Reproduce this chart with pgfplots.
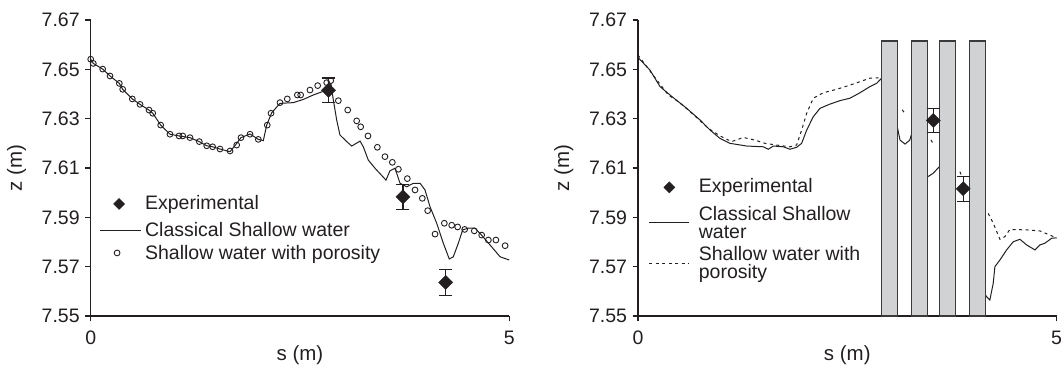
\documentclass[border=0pt]{standalone}
\usepackage{fontspec}
\setmainfont{Liberation Sans}
\usepackage{pgfplots}
\pgfplotsset{compat=1.18}

\definecolor{ink}{HTML}{231F20}
\definecolor{pillar}{HTML}{D1D2D4}
\definecolor{pillaredge}{HTML}{3A3A3A}

\pgfplotsset{
  profile/.style={
    scale only axis, width=418.6bp, height=296bp,
    xmin=0, xmax=5, ymin=7.55, ymax=7.67,
    axis x line*=bottom, axis y line*=left,
    axis line style={ink, line width=1.2bp},
    tick align=outside, major tick length=5.5bp,
    every tick/.style={ink, line width=1.2bp},
    xtick={0,5}, ytick={7.55,7.57,7.59,7.61,7.63,7.65,7.67},
    yticklabel style={/pgf/number format/fixed, /pgf/number format/fixed zerofill, /pgf/number format/precision=2, xshift=-2bp},
    xticklabel style={yshift=-6bp},
    /pgf/number format/assume math mode=true,
    tick label style={font=\fontsize{19.5bp}{22bp}\selectfont, text=ink},
    label style={font=\fontsize{20.5bp}{24bp}\selectfont, text=ink},
    xlabel={s (m)}, ylabel={z (m)},
    xlabel style={at={(axis description cs:0.5,-0.132)}, anchor=center},
    ylabel style={at={(axis description cs:-0.177,0.5)}, anchor=center},
    clip=false,
    legend cell align=left,
    legend style={draw=none, fill=none, inner sep=0pt, anchor=north west,
      font=\fontsize{19.5bp}{18bp}\selectfont, text=ink,
      row sep=5bp,
      nodes={inner sep=1bp, align=left}},
  },
  expmark/.style={only marks, mark=square*, mark size=5bp,
    mark options={rotate=45, fill=ink, draw=ink},
    error bars/y dir=both, error bars/y explicit,
    error bars/error bar style={ink, line width=1.1bp},
    error bars/error mark options={rotate=90, ink, line width=1.1bp, mark size=6.5bp}},
}

\begin{document}
\begin{tikzpicture}
\useasboundingbox (0,0) rectangle (1064bp,367bp);

% ---------------- left: open channel ----------------
\begin{axis}[profile, at={(90.7bp,51bp)}, anchor=south west,
  legend style={at={(axis cs:0.104,7.5994)}, column sep=2.5bp}]
\addlegendimage{legend image code/.code={\draw[only marks, mark=square*, mark size=3.9bp, mark options={rotate=45, fill=ink, draw=ink}] plot coordinates {(19bp,1.5bp)};}}
\addlegendentry[text depth=6bp]{Experimental}
\addlegendimage{legend image code/.code={\draw[ink, line width=1bp] (0bp,0bp) -- (41bp,0bp);}}
\addlegendentry{Classical Shallow water}
\addlegendimage{legend image code/.code={\draw[only marks, mark=o, mark size=2.9bp, mark options={ink, line width=0.9bp}] plot coordinates {(17bp,0bp)};}}
\addlegendentry{Shallow water with porosity}

% classical shallow water
\addplot[ink, line width=1bp, forget plot] coordinates {
(0,7.6541)(0.031,7.6524)(0.143,7.6501)(0.231,7.6473)(0.342,7.6443)(0.382,7.6419)
(0.497,7.638)(0.589,7.6358)(0.696,7.6335)(0.741,7.6322)(0.836,7.6274)(0.947,7.6237)
(1.055,7.623)(1.186,7.6223)(1.297,7.6207)(1.386,7.619)(1.457,7.6186)(1.544,7.6177)
(1.664,7.6166)(1.744,7.6200)(1.795,7.6223)(1.903,7.6238)(2.002,7.6216)(2.062,7.6211)
(2.102,7.6274)(2.162,7.6324)(2.261,7.6362)(2.42,7.6365)(2.54,7.6378)(2.659,7.6396)
(2.819,7.6416)(2.87,7.6440)(2.898,7.6376)(2.938,7.6295)(2.977,7.6234)(3.058,7.6207)
(3.118,7.6189)(3.217,7.6209)(3.256,7.6186)(3.316,7.6132)(3.396,7.6099)(3.527,7.6051)
(3.575,7.6089)(3.635,7.6099)(3.695,7.6038)(3.775,7.6024)(3.853,7.6038)(3.935,7.6038)
(3.993,7.6011)(4.053,7.5943)(4.133,7.5876)(4.212,7.5795)(4.283,7.5731)(4.331,7.5740)
(4.391,7.5795)(4.443,7.5849)(4.51,7.5856)(4.59,7.5856)(4.65,7.5835)(4.77,7.5788)
(4.89,7.5740)(5.0,7.5727)};

% shallow water with porosity
\addplot[only marks, mark=o, mark size=2.9bp, mark options={ink, line width=0.9bp}, forget plot] coordinates {
(0,7.6541)(0.031,7.6524)(0.143,7.6501)(0.231,7.6473)(0.342,7.6443)(0.382,7.6419)
(0.497,7.638)(0.589,7.6358)(0.696,7.6335)(0.741,7.6322)(0.836,7.6274)(0.947,7.6237)
(1.055,7.623)(1.099,7.623)(1.186,7.6223)(1.297,7.6207)(1.386,7.619)(1.457,7.6186)
(1.544,7.6177)(1.664,7.6169)(1.744,7.6193)(1.795,7.6223)(1.903,7.6237)(2.002,7.6216)
(2.109,7.6274)(2.154,7.6322)(2.261,7.6365)(2.348,7.638)(2.468,7.6396)(2.508,7.6396)
(2.619,7.6416)(2.711,7.6434)(2.819,7.6446)(2.867,7.6454)(2.958,7.6373)(3.07,7.6335)
(3.177,7.6291)(3.225,7.6267)(3.312,7.623)(3.424,7.6184)(3.515,7.6146)(3.603,7.6123)
(3.675,7.6095)(3.782,7.6057)(3.874,7.6011)(3.961,7.5977)(4.025,7.5927)(4.113,7.5832)
(4.224,7.5876)(4.312,7.5868)(4.383,7.5861)(4.467,7.5851)(4.582,7.5845)(4.67,7.5828)
(4.75,7.5808)(4.84,7.5808)(4.95,7.5785)};

% measurements
\addplot[forget plot, expmark] coordinates {
(2.84,7.6415) +- (0,0.005)
(3.73,7.5983) +- (0,0.005)
(4.24,7.5636) +- (0,0.0052)};
\end{axis}

% ---------------- right: channel with pillars ----------------
\begin{axis}[profile, at={(638bp,51bp)}, anchor=south west,
  unbounded coords=jump,
  legend style={at={(axis cs:0.127,7.6061)}, column sep=8bp}]
\addlegendimage{legend image code/.code={\draw[only marks, mark=square*, mark size=3.9bp, mark options={rotate=45, fill=ink, draw=ink}] plot coordinates {(20bp,1.5bp)};}}
\addlegendentry[text depth=6bp]{Experimental}
\addlegendimage{legend image code/.code={\draw[ink, line width=1bp] (0bp,0bp) -- (40bp,0bp);}}
\addlegendentry{Classical Shallow\\water}
\addlegendimage{legend image code/.code={\draw[ink, line width=1bp, dash pattern=on 3bp off 3.5bp] (0bp,0bp) -- (40bp,0bp);}}
\addlegendentry{Shallow water with\\porosity}

% classical shallow water
\addplot[ink, line width=1bp, forget plot] coordinates {
(0,7.6548)(0.143,7.6497)(0.263,7.643)(0.382,7.6396)(0.581,7.6342)(0.74,7.6295)
(0.86,7.6254)(0.979,7.622)(1.099,7.620)(1.298,7.6189)(1.497,7.6186)(1.556,7.6176)
(1.616,7.6189)(1.735,7.6186)(1.815,7.6176)(1.895,7.6184)(1.955,7.620)(2.015,7.6254)
(2.094,7.6308)(2.174,7.6342)(2.293,7.6359)(2.412,7.6373)(2.532,7.6383)(2.651,7.6405)
(2.77,7.643)(2.85,7.6443)(2.91,7.6464)
(3,nan)
(3.097,7.6267)(3.13,7.6213)(3.19,7.6197)(3.246,7.6213)(3.264,7.6234)
(3.4,nan)
(3.455,7.6063)(3.527,7.6079)(3.598,7.6105)
(4,nan)
(4.151,7.5585)(4.164,7.5578)(4.203,7.5565)(4.243,7.5633)(4.263,7.5700)(4.323,7.5727)
(4.403,7.5768)(4.482,7.5801)(4.562,7.5811)(4.642,7.5788)(4.741,7.5768)(4.801,7.5788)
(4.86,7.5795)(4.94,7.5815)(5.0,7.5817)};

% shallow water with porosity
\addplot[ink, line width=1bp, dash pattern=on 3bp off 3.5bp, forget plot] coordinates {
(0,7.6558)(0.163,7.6484)(0.362,7.6396)(0.482,7.6369)(0.601,7.6335)(0.84,7.6261)
(0.979,7.623)(1.119,7.6207)(1.258,7.6224)(1.397,7.6213)(1.516,7.620)(1.656,7.6193)
(1.815,7.6186)(1.895,7.6193)(1.955,7.6254)(2.015,7.6322)(2.094,7.6383)(2.213,7.6405)
(2.372,7.6419)(2.532,7.6436)(2.651,7.645)(2.77,7.6464)(2.91,7.6466)
(3,nan)
(3.155,7.6336)(3.178,7.6326)
(3.3,nan)
(3.499,7.6214)(3.535,7.6193)
(3.7,nan)
(3.845,7.6085)(3.869,7.6065)
(4,nan)
(4.183,7.5916)(4.243,7.5876)(4.323,7.5811)(4.383,7.5822)(4.442,7.5851)(4.642,7.5849)
(4.80,7.5845)(4.92,7.5828)(5.0,7.5816)};

% pillars
\addplot[fill=pillar, draw=pillaredge, line width=1.4bp, forget plot] coordinates {(2.910,7.55)(2.910,7.6615)(3.097,7.6615)(3.097,7.55)} -- cycle;
\addplot[fill=pillar, draw=pillaredge, line width=1.4bp, forget plot] coordinates {(3.264,7.55)(3.264,7.6615)(3.455,7.6615)(3.455,7.55)} -- cycle;
\addplot[fill=pillar, draw=pillaredge, line width=1.4bp, forget plot] coordinates {(3.598,7.55)(3.598,7.6615)(3.789,7.6615)(3.789,7.55)} -- cycle;
\addplot[fill=pillar, draw=pillaredge, line width=1.4bp, forget plot] coordinates {(3.960,7.55)(3.960,7.6615)(4.151,7.6615)(4.151,7.55)} -- cycle;

% measurements
\addplot[forget plot, expmark] coordinates {
(3.527,7.6293) +- (0,0.005)
(3.884,7.6016) +- (0,0.0051)};
\end{axis}
\end{tikzpicture}
\end{document}
